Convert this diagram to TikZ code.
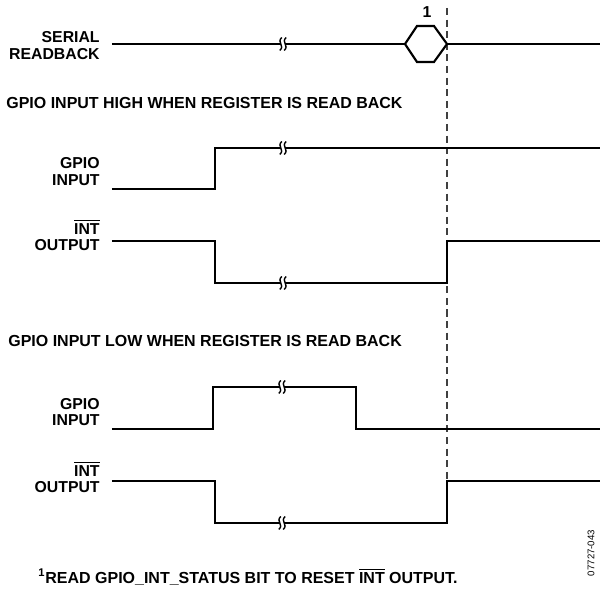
\documentclass[tikz,border=0pt]{standalone}
\usepackage{fontspec}
\setmainfont{Liberation Sans}
\usepackage{tikz}
\usetikzlibrary{positioning}

\tikzset{
  sig/.style={line width=1.2pt, line join=miter},
  lbl/.style={font=\bfseries\fontsize{9}{9.2}\selectfont, align=right, anchor=east, inner sep=0pt},
  ttl/.style={font=\bfseries\fontsize{9.1}{10}\selectfont, anchor=west, inner sep=0pt},
  rdline/.style={line width=0.6pt, black!75, dash pattern=on 4pt off 2.6pt}
}
% break mark on a signal line
\newcommand{\brkmark}[1]{
  \begin{scope}[shift={(#1)}]
    \draw[white, line width=2pt] (1,-6.5) .. controls (-4.5,-1.5) and (4.5,1.5) .. (-1,6.5);
    \foreach \d in {-2.2,2.2}
      \draw[line width=0.8pt] (\d+1,-6.5) .. controls (\d-4.5,-1.5) and (\d+4.5,1.5) .. (\d-1,6.5);
  \end{scope}
}
\newcommand{\intbar}{$\overline{\mbox{INT}}$}

\begin{document}
\begin{tikzpicture}[x=0.02cm, y=-0.02cm]
\useasboundingbox (0,0) rectangle (600,590);

% read back instant
\draw[rdline] (447,8) -- (447,481);

% serial readback
\node[lbl] (serlbl) at (100,45.5) {SERIAL\\READBACK};
\draw[sig] (112,44) -- (405,44);
\draw[sig] (405,44) -- (417,26) -- (434,26) -- (447,44) -- (434,62) -- (417,62) -- cycle;
\draw[sig] (447,44) -- (600,44);
\brkmark{283,44}
\node[font=\bfseries\fontsize{9}{10}\selectfont, inner sep=0pt] (note) at (427,12) {1};

% gpio high
\node[ttl] (hightitle) at (6,103) {GPIO INPUT HIGH WHEN REGISTER IS READ BACK};

\node[lbl] (gpio1) at (100,171.5) {GPIO\\INPUT};
\draw[sig] (112,189) -- (215,189) -- (215,148) -- (600,148);
\brkmark{283,148}

\node[lbl] (int1) at (100,235) {\intbar\\OUTPUT};
\draw[sig] (112,241) -- (215,241) -- (215,283) -- (447,283) -- (447,241) -- (600,241);
\brkmark{283,283}

% gpio low
\node[ttl] (lowtitle) at (8,341) {GPIO INPUT LOW WHEN REGISTER IS READ BACK};

\node[lbl] (gpio2) at (100,412) {GPIO\\INPUT};
\draw[sig] (112,429) -- (213,429) -- (213,387) -- (356,387) -- (356,429) -- (600,429);
\brkmark{282,387}

\node[lbl] (int2) at (100,477) {\intbar\\OUTPUT};
\draw[sig] (112,481) -- (215,481) -- (215,523) -- (447,523) -- (447,481) -- (600,481);
\brkmark{282,523}

% footnote
\node[ttl] (foot) at (38,577) {\textsuperscript{1}READ GPIO\_INT\_STATUS BIT TO RESET \intbar{} OUTPUT.};
\node[rotate=90, font=\fontsize{5.5}{6}\selectfont, inner sep=0pt] (figno) at (591,553) {07727-043};
\end{tikzpicture}
\end{document}
